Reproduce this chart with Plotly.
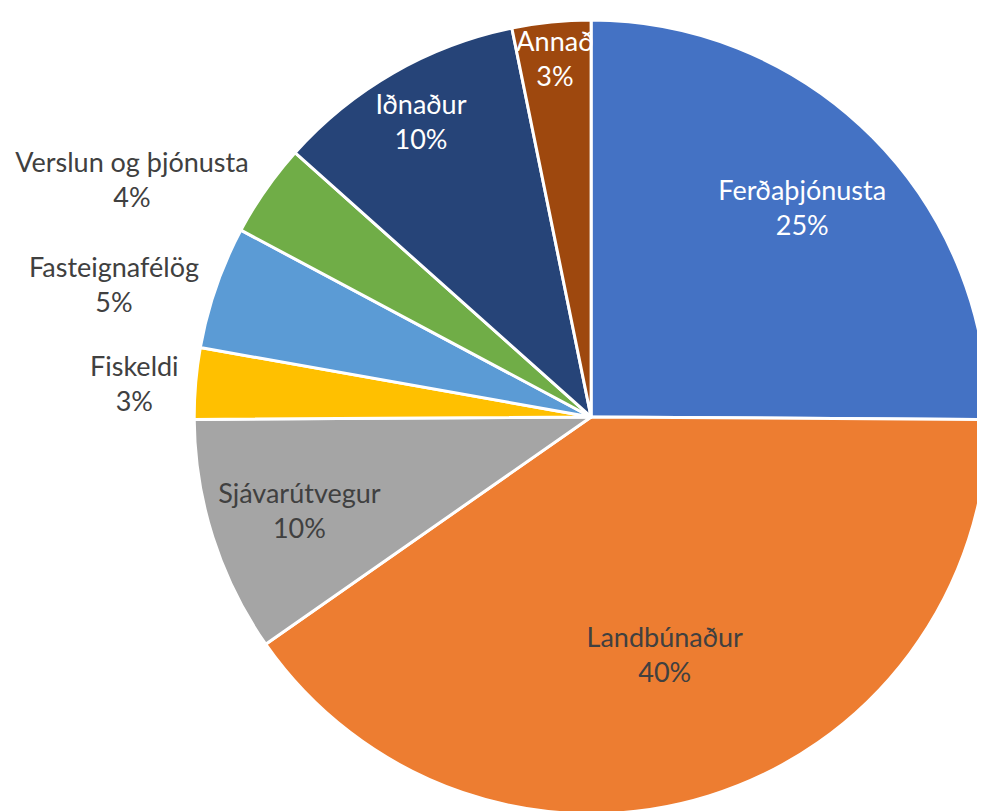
import plotly.graph_objects as go

categories = ["Ferðaþjónusta", "Landbúnaður", "Sjávarútvegur", "Fiskeldi",
              "Fasteignafélög", "Verslun og þjónusta", "Iðnaður", "Annað"]
values = [25.1, 40.2, 9.6, 2.9, 5.0, 3.8, 10.2, 3.2]
colors = ["#4472C4", "#ED7D31", "#A5A5A5", "#FFC000",
          "#5B9BD5", "#70AD47", "#264478", "#9E480E"]
text_positions = ["inside", "inside", "inside", "outside",
                  "outside", "outside", "inside", "inside"]
text_colors = ["#FFFFFF", "#404040", "#404040", "#404040",
               "#404040", "#404040", "#FFFFFF", "#FFFFFF"]
# which label ring (hole size of the transparent label layer) each slice uses
label_layer = [1, 0, 1, 1, 1, 1, 2, 3]
layer_holes = [0.25, 0.5, 0.72, 0.79]

W, H = 985, 811
domain = dict(x=[0.19, 1.0], y=[1 / H, 799 / H])

fig = go.Figure()
fig.add_trace(go.Pie(
    labels=categories, values=values, sort=False,
    direction="clockwise", rotation=0,
    marker=dict(colors=colors, line=dict(color="white", width=3)),
    textinfo="none", hoverinfo="skip", domain=domain, showlegend=False,
))

for li, hole in enumerate(layer_holes):
    templates = ["%{label}<br>%{percent:.0%}" if label_layer[i] == li else ""
                 for i in range(len(categories))]
    fig.add_trace(go.Pie(
        labels=categories, values=values, sort=False,
        direction="clockwise", rotation=0, hole=hole,
        marker=dict(colors=["rgba(0,0,0,0)"] * len(categories),
                    line=dict(width=0)),
        texttemplate=templates,
        textposition=text_positions,
        insidetextorientation="horizontal",
        textfont=dict(family="Lato", size=27, color=text_colors),
        hoverinfo="skip", domain=domain, showlegend=False,
    ))

fig.update_layout(
    width=W, height=H,
    margin=dict(l=0, r=0, t=0, b=0),
    paper_bgcolor="white",
    plot_bgcolor="white",
    uniformtext=dict(minsize=27, mode="show"),
)

fig.write_html("out.html")
